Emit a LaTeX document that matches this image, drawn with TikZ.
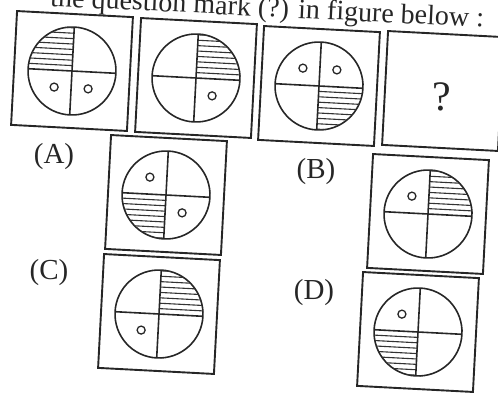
\documentclass[tikz,border=0pt]{standalone}
\usepackage{fontspec}
\setmainfont{Liberation Serif}
\usepackage{tikz}
\usetikzlibrary{positioning,calc}

% one puzzle figure: name, centre, hatched quadrant (sx, sy), dots
\newcommand{\puzzlefig}[5]{%
  \begin{scope}[shift={#2}, rotate=-3]
    \node[figbox] (#1) at (0,0) {};
    \node[face] (#1c) at (0,0) {};
    \begin{scope}
      \clip (0,0) circle [radius=44];
      \clip (0,0) rectangle (#3*44, #4*44);
      \foreach \k in {1,...,8}
        \draw[hatch] (-44, #4*\k*5.4) -- (44, #4*\k*5.4);
    \end{scope}
    \draw[cross] (#1c.north) -- (#1c.south);
    \draw[cross] (#1c.west) -- (#1c.east);
    \foreach \dx/\dy [count=\i] in {#5}
      \node[dot] (#1d\i) at (\dx*17, \dy*17) {};
  \end{scope}}

\begin{document}
\begin{tikzpicture}[
    x=1pt, y=-1pt,
    figbox/.style={draw=black!85, line width=1.9pt, minimum width=116pt, minimum height=114pt, inner sep=0pt, transform shape},
    face/.style={draw=black!85, circle, line width=1.6pt, minimum size=88pt, inner sep=0pt, outer sep=0pt, transform shape},
    cross/.style={draw=black!85, line width=1.6pt},
    hatch/.style={draw=black!80, line width=1.1pt},
    dot/.style={draw=black!85, circle, line width=1.3pt, minimum size=8pt, inner sep=0pt},
    lbl/.style={font=\fontsize{29}{32}\selectfont, text=black!85},
  ]
    \useasboundingbox (0,0) rectangle (498,393);
    \clip (0,0) rectangle (498,393);

    \node[lbl, font=\fontsize{28}{30}\selectfont, anchor=base west, rotate=-2.8, inner sep=0pt] (title) at (50,6) {the question mark (?) in figure below :};

    % question row
    \puzzlefig{f1}{(72,71)}{-1}{-1}{-1/1, 1/1}
    \puzzlefig{f2}{(196,78)}{1}{-1}{1/1}
    \puzzlefig{f3}{(319,86)}{1}{1}{-1/-1, 1/-1}
    \begin{scope}[shift={(443,91)}, rotate=-3]
      \node[figbox] (f4) at (0,0) {};
      \node[font=\fontsize{42}{44}\selectfont, text=black!85] (qm) at (-1,6) {?};
    \end{scope}

    % answer figures
    \node[lbl] (la) at (54,157) {(A)};
    \node[lbl] (lb) at (316,172) {(B)};
    \node[lbl] (lc) at (49,273) {(C)};
    \node[lbl] (ld) at (314,293) {(D)};
    \puzzlefig{fa}{(166,195)}{-1}{1}{-1/-1, 1/1}
    \puzzlefig{fb}{(428,214)}{1}{-1}{-1/-1}
    \puzzlefig{fc}{(159,314)}{1}{-1}{-1/1}
    \puzzlefig{fd}{(418,332)}{-1}{1}{-1/-1}
  \end{tikzpicture}
\end{document}
